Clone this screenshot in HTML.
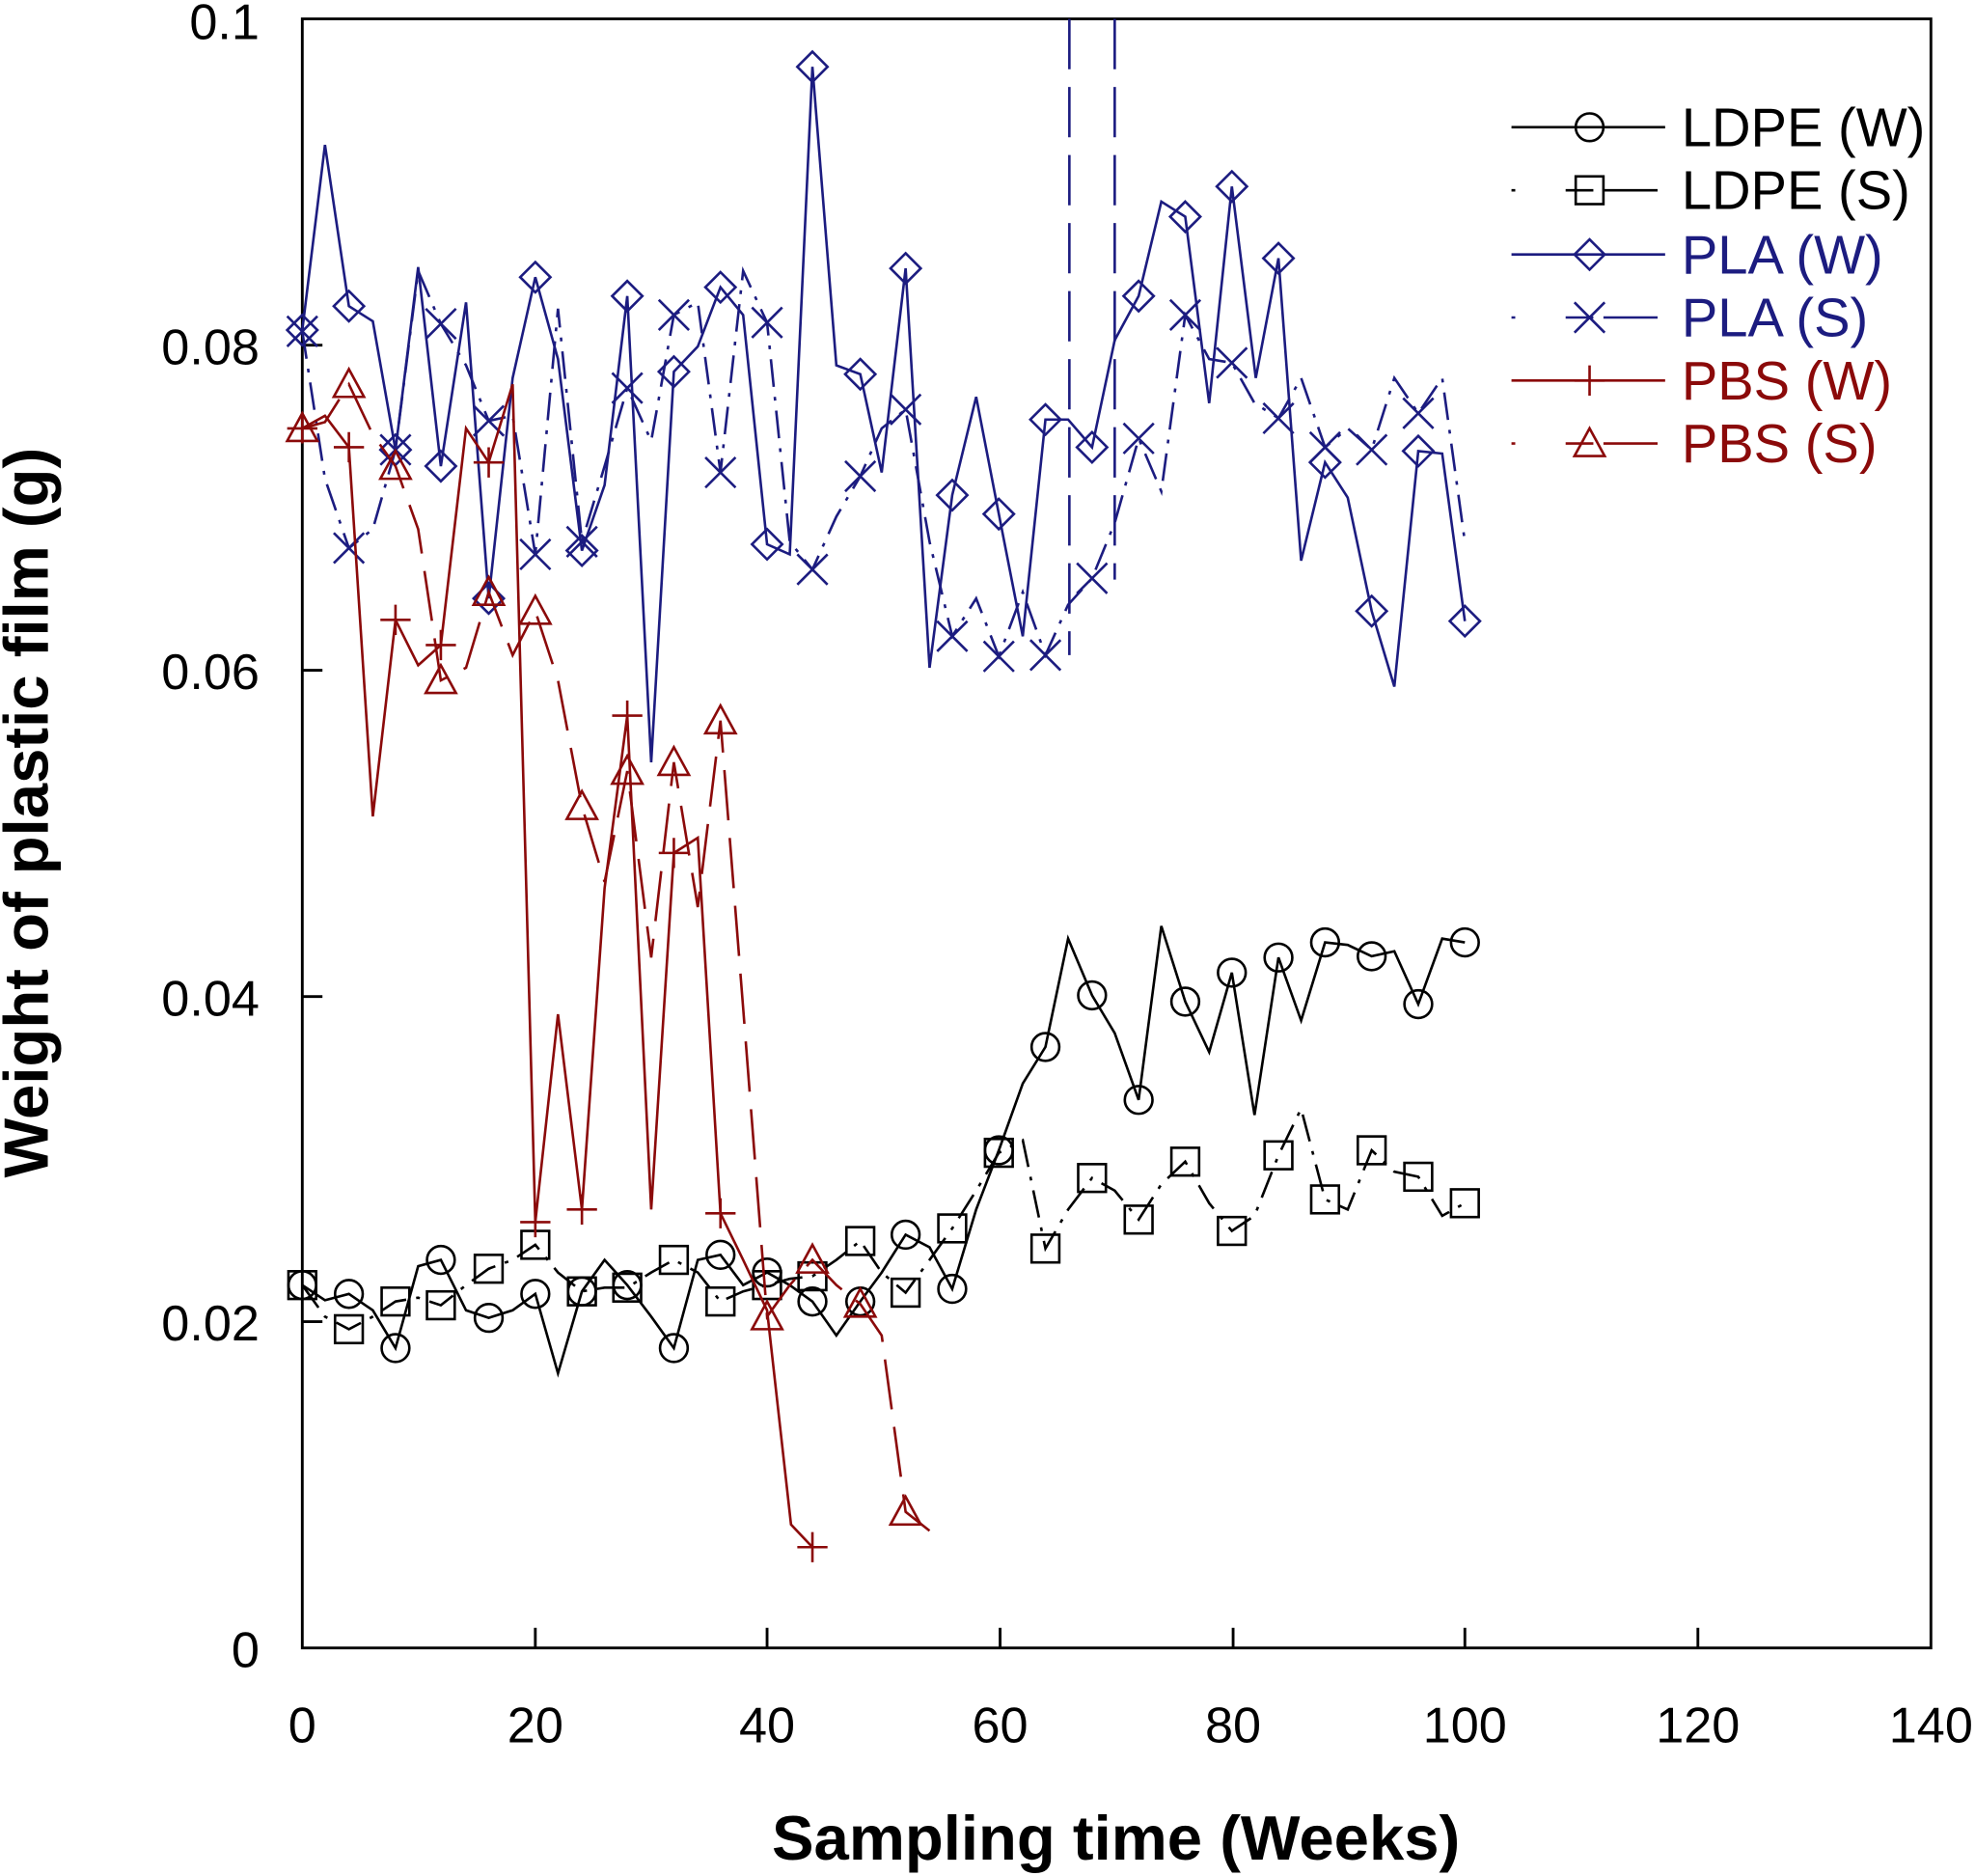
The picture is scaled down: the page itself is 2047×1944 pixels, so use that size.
<!DOCTYPE html>
<html><head><meta charset="utf-8"><style>html,body{margin:0;padding:0;background:#fff}svg{display:block}</style></head>
<body>
<svg width="2047" height="1944" viewBox="0 0 1568 1489" preserveAspectRatio="none" xmlns="http://www.w3.org/2000/svg" font-family="Liberation Sans, Arial, sans-serif">
<defs>
<symbol id="c" overflow="visible"><circle cx="0" cy="0" r="11" fill="none" stroke="#000" stroke-width="2"/></symbol>
<symbol id="s" overflow="visible"><rect x="-11" y="-11" width="22" height="22" fill="none" stroke="#000" stroke-width="2"/></symbol>
<symbol id="d" overflow="visible"><path d="M0,-12 L12,0 L0,12 L-12,0Z" fill="none" stroke="#1c1c80" stroke-width="2"/></symbol>
<symbol id="x" overflow="visible"><path d="M-12,-12 L12,12 M-12,12 L12,-12" stroke="#1c1c80" stroke-width="2"/></symbol>
<symbol id="p" overflow="visible"><path d="M-12,0 L12,0 M0,-12 L0,12" stroke="#8b0a0a" stroke-width="2"/></symbol>
<symbol id="t" overflow="visible"><path d="M0,-12 L12,10 L-12,10Z" fill="none" stroke="#8b0a0a" stroke-width="2"/></symbol>
</defs>
<rect x="240" y="15" width="1293" height="1293" fill="none" stroke="#000" stroke-width="2.2"/>
<g stroke="#000" stroke-width="2.2">
<line x1="240" y1="274" x2="256" y2="274"/><line x1="240" y1="532" x2="256" y2="532"/><line x1="240" y1="791" x2="256" y2="791"/><line x1="240" y1="1049" x2="256" y2="1049"/>
<line x1="425" y1="1308" x2="425" y2="1292"/><line x1="609" y1="1308" x2="609" y2="1292"/><line x1="794" y1="1308" x2="794" y2="1292"/><line x1="979" y1="1308" x2="979" y2="1292"/><line x1="1163" y1="1308" x2="1163" y2="1292"/><line x1="1348" y1="1308" x2="1348" y2="1292"/>
</g>
<g font-size="40" text-anchor="end" fill="#000">
<text x="206" y="31">0.1</text><text x="206" y="289">0.08</text><text x="206" y="547">0.06</text><text x="206" y="806">0.04</text><text x="206" y="1064">0.02</text><text x="206" y="1323">0</text>
</g>
<g font-size="40" text-anchor="middle" fill="#000">
<text x="240" y="1383">0</text><text x="425" y="1383">20</text><text x="609" y="1383">40</text><text x="794" y="1383">60</text><text x="979" y="1383">80</text><text x="1163" y="1383">100</text><text x="1348" y="1383">120</text><text x="1533" y="1383">140</text>
</g>
<text x="886" y="1476" font-size="50" font-weight="bold" text-anchor="middle">Sampling time (Weeks)</text>
<text transform="translate(38,645) rotate(-90)" font-size="50" font-weight="bold" text-anchor="middle">Weight of plastic film (g)</text>

<g stroke="#1c1c80" stroke-width="2" stroke-dasharray="40,14" fill="none">
<line x1="849" y1="15" x2="849" y2="520"/><line x1="885" y1="15" x2="885" y2="460"/>
</g>

<polyline fill="none" stroke="#000" stroke-width="2" points="240,1020 258,1032 277,1027 296,1040 314,1070 332,1005 350,1000 370,1040 388,1046 407,1040 425,1027 443,1090 462,1025 480,1000 498,1020 517,1045 535,1070 554,1000 572,996 590,1020 609,1010 627,1020 645,1033 664,1060 683,1033 700,1010 719,980 738,990 756,1023 775,960 793,913 812,860 830,831 848,745 867,790 885,820 904,873 922,735 941,795 960,835 978,772 996,885 1015,760 1033,810 1052,748 1070,750 1089,759 1107,755 1126,797 1145,745 1163,748"/>
<g><use href="#c" x="240" y="1020"/><use href="#c" x="277" y="1027"/><use href="#c" x="314" y="1070"/><use href="#c" x="350" y="1000"/><use href="#c" x="388" y="1046"/><use href="#c" x="425" y="1027"/><use href="#c" x="462" y="1025"/><use href="#c" x="498" y="1020"/><use href="#c" x="535" y="1070"/><use href="#c" x="572" y="996"/><use href="#c" x="609" y="1010"/><use href="#c" x="645" y="1033"/><use href="#c" x="683" y="1033"/><use href="#c" x="719" y="980"/><use href="#c" x="756" y="1023"/><use href="#c" x="793" y="913"/><use href="#c" x="830" y="831"/><use href="#c" x="867" y="790"/><use href="#c" x="904" y="873"/><use href="#c" x="941" y="795"/><use href="#c" x="978" y="772"/><use href="#c" x="1015" y="760"/><use href="#c" x="1052" y="748"/><use href="#c" x="1089" y="759"/><use href="#c" x="1126" y="797"/><use href="#c" x="1163" y="748"/></g>

<polyline fill="none" stroke="#000" stroke-width="2" stroke-dasharray="22,8,3,8" points="240,1020 258,1045 277,1055 296,1045 314,1033 332,1030 350,1036 370,1020 388,1007 407,1000 425,988 443,1010 462,1025 480,1022 498,1022 517,1010 535,1000 554,1010 572,1033 590,1025 609,1020 627,1015 645,1013 664,1000 683,985 700,1010 719,1026 738,1000 756,975 775,945 793,915 812,905 830,991 848,960 867,935 885,945 904,968 922,940 941,922 960,955 978,977 996,965 1015,917 1033,880 1052,952 1070,960 1089,913 1107,930 1126,934 1145,965 1163,955"/>
<g><use href="#s" x="240" y="1020"/><use href="#s" x="277" y="1055"/><use href="#s" x="314" y="1033"/><use href="#s" x="350" y="1036"/><use href="#s" x="388" y="1007"/><use href="#s" x="425" y="988"/><use href="#s" x="462" y="1025"/><use href="#s" x="498" y="1022"/><use href="#s" x="535" y="1000"/><use href="#s" x="572" y="1033"/><use href="#s" x="609" y="1020"/><use href="#s" x="645" y="1013"/><use href="#s" x="683" y="985"/><use href="#s" x="719" y="1026"/><use href="#s" x="756" y="975"/><use href="#s" x="793" y="915"/><use href="#s" x="830" y="991"/><use href="#s" x="867" y="935"/><use href="#s" x="904" y="968"/><use href="#s" x="941" y="922"/><use href="#s" x="978" y="977"/><use href="#s" x="1015" y="917"/><use href="#s" x="1052" y="952"/><use href="#s" x="1089" y="913"/><use href="#s" x="1126" y="934"/><use href="#s" x="1163" y="955"/></g>

<polyline fill="none" stroke="#1c1c80" stroke-width="2" points="240,262 258,115 277,243 296,255 314,357 332,212 350,370 370,240 388,475 407,300 425,220 443,285 462,437 480,385 498,235 517,605 535,295 554,275 572,228 590,250 609,432 627,440 645,53 664,290 683,297 700,375 719,213 738,530 756,393 775,315 793,408 812,505 830,333 848,333 867,355 885,270 904,235 922,160 941,172 960,320 978,148 997,300 1015,205 1033,445 1052,367 1070,395 1089,485 1107,545 1126,358 1145,360 1163,493"/>
<g><use href="#d" x="240" y="262"/><use href="#d" x="277" y="243"/><use href="#d" x="314" y="357"/><use href="#d" x="350" y="370"/><use href="#d" x="388" y="475"/><use href="#d" x="425" y="220"/><use href="#d" x="462" y="437"/><use href="#d" x="498" y="235"/><use href="#d" x="535" y="295"/><use href="#d" x="572" y="228"/><use href="#d" x="609" y="432"/><use href="#d" x="645" y="53"/><use href="#d" x="683" y="297"/><use href="#d" x="719" y="213"/><use href="#d" x="756" y="393"/><use href="#d" x="793" y="408"/><use href="#d" x="830" y="333"/><use href="#d" x="867" y="355"/><use href="#d" x="904" y="235"/><use href="#d" x="941" y="172"/><use href="#d" x="978" y="148"/><use href="#d" x="1015" y="205"/><use href="#d" x="1052" y="367"/><use href="#d" x="1089" y="485"/><use href="#d" x="1126" y="358"/><use href="#d" x="1163" y="493"/></g>

<polyline fill="none" stroke="#1c1c80" stroke-width="2" stroke-dasharray="22,8,3,8" points="240,263 258,380 277,435 296,420 314,357 332,215 350,257 370,290 388,334 407,330 425,440 443,245 462,430 480,370 498,308 517,350 535,250 554,240 572,375 590,215 609,256 627,430 645,452 664,410 683,378 700,340 719,325 738,430 756,505 775,475 793,521 812,470 830,520 848,480 867,459 885,415 904,348 922,390 941,250 960,285 978,288 996,320 1015,332 1033,300 1052,355 1070,340 1089,357 1107,300 1126,328 1145,300 1163,430"/>
<g><use href="#x" x="240" y="263"/><use href="#x" x="277" y="435"/><use href="#x" x="314" y="357"/><use href="#x" x="350" y="257"/><use href="#x" x="388" y="334"/><use href="#x" x="425" y="440"/><use href="#x" x="462" y="430"/><use href="#x" x="498" y="308"/><use href="#x" x="535" y="250"/><use href="#x" x="572" y="375"/><use href="#x" x="609" y="256"/><use href="#x" x="645" y="452"/><use href="#x" x="683" y="378"/><use href="#x" x="719" y="325"/><use href="#x" x="756" y="505"/><use href="#x" x="793" y="521"/><use href="#x" x="830" y="520"/><use href="#x" x="867" y="459"/><use href="#x" x="904" y="348"/><use href="#x" x="941" y="250"/><use href="#x" x="978" y="288"/><use href="#x" x="1015" y="332"/><use href="#x" x="1052" y="355"/><use href="#x" x="1089" y="357"/><use href="#x" x="1126" y="328"/></g>

<polyline fill="none" stroke="#8b0a0a" stroke-width="2" points="240,340 258,330 277,355 296,648 314,492 332,528 350,512 370,340 388,367 407,305 425,970 443,805 462,960 480,705 498,568 517,960 535,677 554,665 572,963 590,1000 609,1040 628,1210 645,1228"/>
<g><use href="#p" x="240" y="340"/><use href="#p" x="277" y="355"/><use href="#p" x="314" y="492"/><use href="#p" x="350" y="512"/><use href="#p" x="388" y="367"/><use href="#p" x="425" y="970"/><use href="#p" x="462" y="960"/><use href="#p" x="498" y="568"/><use href="#p" x="535" y="677"/><use href="#p" x="572" y="963"/><use href="#p" x="645" y="1228"/></g>

<polyline fill="none" stroke="#8b0a0a" stroke-width="2" stroke-dasharray="40,14" points="240,340 258,335 277,305 296,345 314,370 332,420 350,540 370,530 388,470 407,520 425,485 443,540 462,640 480,700 498,612 517,760 535,605 554,720 572,572 590,800 609,1045 627,1020 645,1000 664,1020 683,1035 700,1060 719,1200 738,1215"/>
<g><use href="#t" x="240" y="340"/><use href="#t" x="277" y="305"/><use href="#t" x="314" y="370"/><use href="#t" x="350" y="540"/><use href="#t" x="388" y="470"/><use href="#t" x="425" y="485"/><use href="#t" x="462" y="640"/><use href="#t" x="498" y="612"/><use href="#t" x="535" y="605"/><use href="#t" x="572" y="572"/><use href="#t" x="609" y="1045"/><use href="#t" x="645" y="1000"/><use href="#t" x="683" y="1035"/><use href="#t" x="719" y="1200"/></g>

<g stroke-width="2" fill="none">
<line x1="1200" y1="101" x2="1322" y2="101" stroke="#000"/>
<line x1="1200" y1="151" x2="1322" y2="151" stroke="#000" stroke-dasharray="3,40,22,8,40,0"/>
<line x1="1200" y1="202" x2="1322" y2="202" stroke="#1c1c80"/>
<line x1="1200" y1="252" x2="1322" y2="252" stroke="#1c1c80" stroke-dasharray="3,40,22,8,40,0"/>
<line x1="1200" y1="302" x2="1322" y2="302" stroke="#8b0a0a"/>
<line x1="1200" y1="352" x2="1322" y2="352" stroke="#8b0a0a" stroke-dasharray="3,40,22,8,40,0"/>
</g>
<use href="#c" x="1262" y="101"/><use href="#s" x="1262" y="151"/><use href="#d" x="1262" y="202"/><use href="#x" x="1262" y="252"/><use href="#p" x="1262" y="302"/><use href="#t" x="1262" y="352"/>
<g font-size="43">
<text x="1335" y="116" fill="#000">LDPE (W)</text>
<text x="1335" y="166" fill="#000">LDPE (S)</text>
<text x="1335" y="217" fill="#1c1c80">PLA (W)</text>
<text x="1335" y="267" fill="#1c1c80">PLA (S)</text>
<text x="1335" y="317" fill="#8b0a0a">PBS (W)</text>
<text x="1335" y="367" fill="#8b0a0a">PBS (S)</text>
</g>
</svg>
</body></html>
